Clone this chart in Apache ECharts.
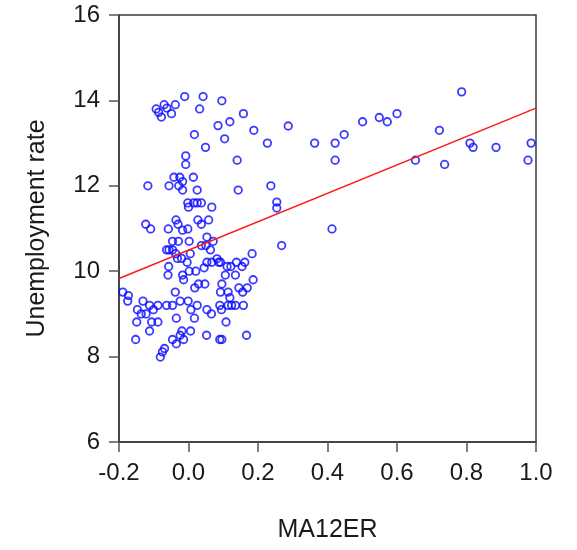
<!DOCTYPE html>
<html>
<head>
<meta charset="utf-8">
<script src="https://cdn.jsdelivr.net/npm/echarts@6/dist/echarts.min.js"></script>
<style>
html,body{margin:0;padding:0;background:#fff;}
#chart{width:577px;height:550px;}
</style>
</head>
<body>
<div id="chart"></div>
<script>
// MA12ER values (x) and unemployment rate (y)
const ma12er = [
 -0.093,-0.086,-0.078,-0.070,-0.062,-0.049,-0.038,-0.011,0.032,0.042,
 0.096,0.085,0.119,0.158,0.188,0.017,0.104,0.049,0.287,0.227,
 0.140,0.143,0.237,0.254,0.254,0.268,0.363,0.422,0.448,0.422,
 0.501,0.549,0.572,0.600,0.653,0.722,0.737,0.786,0.810,0.819,
 0.885,0.977,0.986,0.413,
 -0.117,-0.123,-0.109,-0.056,-0.042,-0.025,-0.017,-0.028,-0.017,0.014,
 0.025,-0.008,-0.008,-0.002,0.000,0.015,0.025,0.037,0.067,0.027,
 0.037,0.058,-0.058,-0.036,-0.030,-0.017,-0.002,-0.046,-0.029,0.002,
 -0.063,-0.056,-0.046,-0.037,-0.020,-0.032,-0.057,-0.059,-0.017,-0.014,
 -0.004,0.005,0.002,0.021,0.037,0.050,0.063,0.071,0.053,0.045,
 0.053,0.067,0.082,0.092,0.087,0.111,0.122,0.138,0.154,0.162,
 0.183,0.135,0.106,0.096,0.029,0.047,0.018,0.092,0.114,0.119,
 0.145,0.156,0.169,0.186,
 -0.189,-0.173,-0.175,-0.131,-0.147,-0.136,-0.122,-0.112,-0.101,-0.088,
 -0.149,-0.112,-0.106,-0.088,-0.152,-0.063,-0.046,-0.038,-0.024,-0.001,
 -0.035,0.007,0.025,0.017,0.006,-0.019,-0.024,-0.046,-0.035,-0.014,
 0.053,0.066,0.052,0.090,0.095,0.090,0.096,0.108,0.114,0.124,
 0.135,0.158,0.167,-0.081,-0.075,-0.069
];
const unemploymentRate = [
 13.80,13.72,13.61,13.90,13.82,13.69,13.90,14.09,13.80,14.09,
 13.99,13.41,13.50,13.69,13.30,13.20,13.10,12.90,13.40,13.00,
 12.60,11.90,12.00,11.62,11.48,10.60,13.00,13.00,13.20,12.60,
 13.50,13.60,13.50,13.69,12.60,13.30,12.50,14.20,13.00,12.90,
 12.90,12.60,13.00,10.99,
 12.00,11.10,10.99,12.00,12.20,12.20,12.10,12.00,11.90,12.20,
 11.90,12.70,12.50,11.60,11.50,11.60,11.60,11.60,11.50,11.20,
 11.10,11.20,10.99,11.20,11.10,10.96,10.99,10.70,10.70,10.70,
 10.50,10.50,10.50,10.41,10.30,10.30,10.11,9.91,9.91,9.80,
 10.21,10.41,10.00,10.00,10.60,10.60,10.50,10.70,10.80,10.08,
 10.21,10.21,10.29,10.21,10.21,10.11,10.11,10.21,10.11,10.21,
 10.41,9.91,9.91,9.70,9.70,9.70,9.61,9.51,9.51,9.38,
 9.61,9.51,9.61,9.80,
 9.51,9.43,9.30,9.30,9.10,9.00,9.00,9.20,9.10,9.20,
 8.81,8.60,8.81,8.81,8.40,9.20,9.20,9.51,9.30,9.30,
 8.90,9.10,9.20,8.90,8.60,8.60,8.50,8.40,8.30,8.40,
 9.10,9.00,8.50,9.20,9.10,8.40,8.40,8.81,9.20,9.20,
 9.20,9.20,8.50,7.99,8.11,8.19
];
// fitted regression line end points
const fitX = [-0.2, 1.0];
const fitY = [9.83, 13.82];
// axis ticks
const xTicks = [-0.2, 0.0, 0.2, 0.4, 0.6, 0.8, 1.0];
const yTicks = [6, 8, 10, 12, 14, 16];

const scatterData = ma12er.map((x, i) => [x, unemploymentRate[i]]);
const fitData = fitX.map((x, i) => [x, fitY[i]]);

const font = '"Liberation Sans", Arial, sans-serif';
const axisColor = '#3a3a3a';

const chart = echarts.init(document.getElementById('chart'), null, {renderer: 'canvas'});
chart.setOption({
  animation: false,
  backgroundColor: '#ffffff',
  grid: {
    left: 119, right: 41, top: 15, bottom: 108,
    show: true, borderColor: axisColor, borderWidth: 1.5, backgroundColor: 'transparent'
  },
  xAxis: {
    type: 'value',
    min: xTicks[0], max: xTicks[xTicks.length - 1], interval: 0.2,
    name: 'MA12ER', nameLocation: 'middle', nameGap: 76,
    nameTextStyle: {fontFamily: font, fontSize: 25, color: '#1a1a1a'},
    axisLine: {show: true, onZero: false, lineStyle: {color: axisColor, width: 1.5}},
    axisTick: {show: true, inside: false, length: 10, lineStyle: {color: '#555', width: 1.5}},
    axisLabel: {fontFamily: font, fontSize: 24, color: '#1a1a1a', margin: 19,
      formatter: v => Number(v).toFixed(1)},
    splitLine: {show: false}
  },
  yAxis: {
    type: 'value',
    min: yTicks[0], max: yTicks[yTicks.length - 1], interval: 2,
    name: 'Unemployment rate', nameLocation: 'middle', nameGap: 69,
    nameTextStyle: {fontFamily: font, fontSize: 25, color: '#1a1a1a'},
    axisLine: {show: true, onZero: false, lineStyle: {color: axisColor, width: 1.5}},
    axisTick: {show: true, inside: false, length: 10, lineStyle: {color: '#555', width: 1.5}},
    axisLabel: {fontFamily: font, fontSize: 24, color: '#1a1a1a', margin: 19},
    splitLine: {show: false}
  },
  series: [
    {
      type: 'scatter',
      data: scatterData,
      symbol: 'circle',
      symbolSize: 7.5,
      itemStyle: {color: 'rgba(0,0,0,0)', borderColor: '#0a0aff', borderWidth: 1.8},
      z: 3
    },
    {
      type: 'line',
      data: fitData,
      showSymbol: false,
      lineStyle: {color: '#ff1a1a', width: 1.5},
      z: 4
    }
  ]
});
</script>
</body>
</html>
